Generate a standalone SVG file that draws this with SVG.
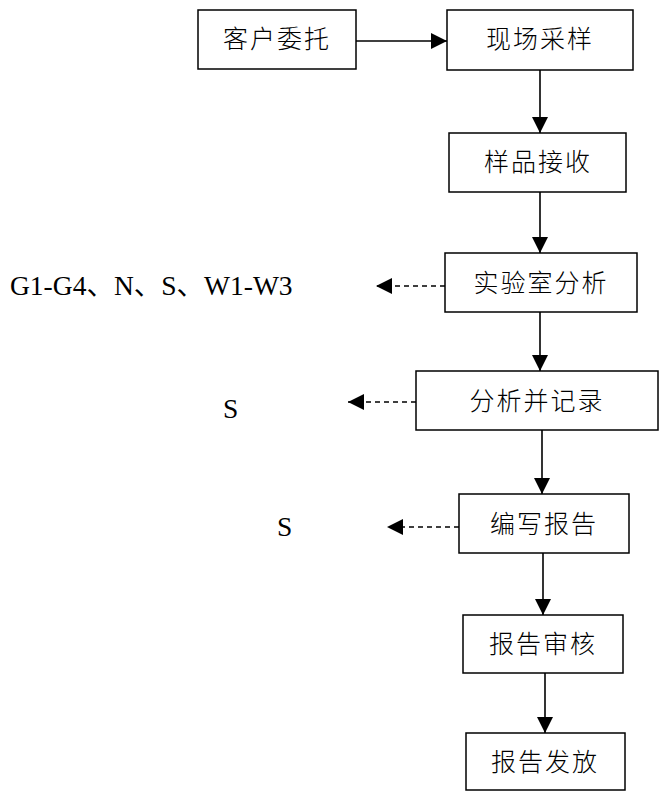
<svg xmlns="http://www.w3.org/2000/svg" width="660" height="792" viewBox="0 0 660 792">
  <style>
    .box { fill: #ffffff; stroke: #000000; stroke-width: 1.5; }
    .lbl { font-family: "Liberation Serif", "Noto Sans CJK SC", serif; font-size: 25px; font-weight: 300; fill: #000000; text-anchor: middle; letter-spacing: 2px; }
    .note { font-family: "Liberation Serif", "Noto Sans CJK SC", serif; font-size: 27.5px; fill: #000000; }
    .flow { stroke: #000000; stroke-width: 1.6; fill: none; marker-end: url(#head); }
    .side { stroke: #000000; stroke-width: 1.4; fill: none; stroke-dasharray: 5 4; marker-end: url(#head); }
  </style>
  <defs>
    <!-- filled triangular arrowhead shared by all connectors -->
    <marker id="head" viewBox="0 0 16 16" refX="16" refY="8" markerWidth="16" markerHeight="16" markerUnits="userSpaceOnUse" orient="auto">
      <path d="M0,0 L16,8 L0,16 Z" fill="#000000"/>
    </marker>
  </defs>

  <g id="n1">
    <rect class="box" x="198" y="10" width="158" height="59"/>
    <text class="lbl" x="277" y="48">客户委托</text>
  </g>
  <g id="n2">
    <rect class="box" x="447" y="10" width="186" height="60"/>
    <text class="lbl" x="540" y="48">现场采样</text>
  </g>
  <g id="n3">
    <rect class="box" x="449" y="133" width="177" height="59"/>
    <text class="lbl" x="538" y="171">样品接收</text>
  </g>
  <g id="n4">
    <rect class="box" x="445" y="253" width="192" height="59"/>
    <text class="lbl" x="541" y="292">实验室分析</text>
  </g>
  <g id="n5">
    <rect class="box" x="416" y="371" width="242" height="59"/>
    <text class="lbl" x="537" y="410">分析并记录</text>
  </g>
  <g id="n6">
    <rect class="box" x="459" y="494" width="170" height="59"/>
    <text class="lbl" x="544" y="533">编写报告</text>
  </g>
  <g id="n7">
    <rect class="box" x="463" y="615" width="160" height="58"/>
    <text class="lbl" x="543" y="653">报告审核</text>
  </g>
  <g id="n8">
    <rect class="box" x="466" y="733" width="159" height="57"/>
    <text class="lbl" x="545" y="771">报告发放</text>
  </g>

  <g id="outputs">
    <text class="note" x="10" y="295">G1-G4、N、S、W1-W3</text>
    <text class="note" x="223" y="418">S</text>
    <text class="note" x="277" y="536">S</text>
  </g>

  <g id="connectors">
    <line class="flow" x1="356" y1="41" x2="447" y2="41"/>
    <line class="flow" x1="540" y1="70" x2="540" y2="133"/>
    <line class="flow" x1="540" y1="192" x2="540" y2="253"/>
    <line class="flow" x1="540" y1="312" x2="540" y2="371"/>
    <line class="flow" x1="542" y1="430" x2="542" y2="494"/>
    <line class="flow" x1="543" y1="553" x2="543" y2="615"/>
    <line class="flow" x1="545" y1="673" x2="545" y2="733"/>
    <line class="side" x1="445" y1="286" x2="376" y2="286"/>
    <line class="side" x1="416" y1="402" x2="348" y2="402"/>
    <line class="side" x1="459" y1="527" x2="387" y2="527"/>
  </g>
</svg>
